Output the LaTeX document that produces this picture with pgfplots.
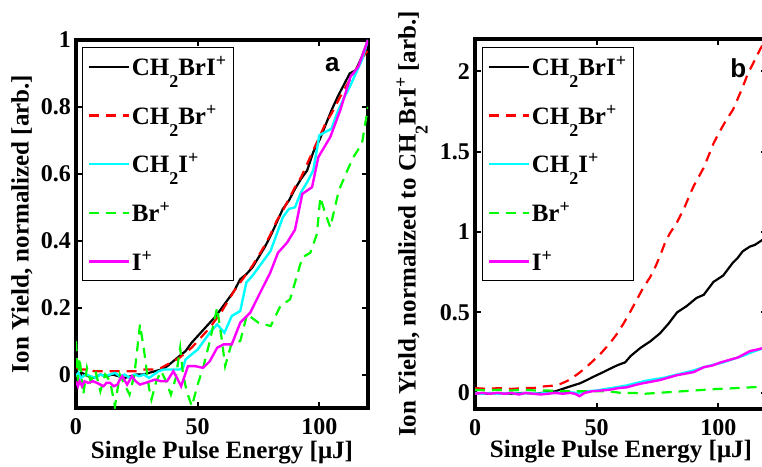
\documentclass[border=0pt]{standalone}
\usepackage{fontspec}
\setmainfont{Liberation Serif}
\newfontfamily\sansfont{Liberation Sans}
\usepackage{pgfplots}
\pgfplotsset{compat=1.18}
\definecolor{mred}{RGB}{255,0,0}
\definecolor{mcyan}{RGB}{0,255,255}
\definecolor{mgreen}{RGB}{0,255,0}
\definecolor{mmag}{RGB}{255,0,255}
\newcommand\tfont{\fontsize{24}{28}\selectfont\bfseries}
\newcommand\lfont{\fontsize{25}{30}\selectfont\bfseries}
\newcommand\msub[1]{\raisebox{-12pt}{\fontsize{18}{18}\selectfont\bfseries #1}}
\newcommand\msup[1]{\raisebox{9pt}{\fontsize{18}{18}\selectfont\bfseries #1}}
\pgfplotsset{
  myaxis/.style={
    scale only axis, width=292pt,
    xmin=0, xmax=120, xtick={0,50,100},
    tick align=inside, major tick length=6pt,
    every tick/.style={black, line width=2pt},
    axis line style={line width=4pt, line cap=rect},
    tick label style={font=\tfont},
    /pgf/number format/assume math mode=true,
    xticklabel style={inner sep=0pt, yshift=-10pt},
    yticklabel style={inner sep=0pt, xshift=-5pt},
    label style={font=\lfont},
    legend cell align=left,
    legend style={anchor=north west, draw=black, line width=0.8pt, font=\lfont,
      inner xsep=5pt, inner ysep=7pt, row sep=24pt, column sep=0pt,
      nodes={inner sep=2pt}},
    legend image code/.code={\draw[##1] (0pt,0pt) -- (40pt,0pt);},
  },
  sblack/.style={black, line width=2.2pt},
  sred/.style={mred, line width=2.2pt, dash pattern=on 10pt off 7pt},
  scyan/.style={mcyan, line width=2.4pt},
  sgreen/.style={mgreen, line width=2.2pt, dash pattern=on 10pt off 7pt},
  smag/.style={mmag, line width=2.4pt},
}
\begin{document}
\begin{tikzpicture}
\begin{axis}[myaxis, at={(76pt,58pt)}, anchor=south west, height=368pt,
  ymin=-0.1, ymax=1, ytick={0,0.2,0.4,0.6,0.8,1},
  xlabel={Single Pulse Energy [μJ]},
  ylabel={Ion Yield, normalized [arb.]},
  xlabel style={at={(axis description cs:0.5,-0.12)}, anchor=center},
  ylabel style={at={(axis description cs:-0.185,0.5)}, anchor=center},
  legend style={at={(rel axis cs:0,1)}, xshift=6pt, yshift=-7pt},
]
\addplot[sblack] coordinates {(0,0.0)(2.5,0.005)(5,-0.005)(7.5,-0.01)(10,0.0)(12.5,-0.005)(15,0.0)(17.5,-0.005)(20,-0.01)(22.5,-0.005)(25,0.0)(27.5,0.0)(30,0.005)(32.5,0.01)(35,0.015)(37.5,0.025)(40,0.04)(42.5,0.055)(45,0.07)(47.5,0.095)(50,0.115)(52.5,0.135)(55,0.155)(57.5,0.175)(60,0.2)(62.5,0.225)(65,0.25)(67.5,0.285)(70,0.3)(72.5,0.32)(75,0.35)(77.5,0.38)(80,0.415)(82.5,0.455)(85,0.495)(87.5,0.52)(90,0.555)(92.5,0.585)(95,0.61)(97.5,0.665)(100,0.7)(102.5,0.745)(105,0.79)(107.5,0.83)(110,0.865)(112.5,0.9)(115,0.91)(117.5,0.95)(120,1.0)};
\addlegendentry{CH\msub{2}BrI\msup{+}}
\addplot[sred] coordinates {(0,0.02)(2.5,0.015)(5,0.015)(7.5,0.01)(10,0.01)(12.5,0.01)(15,0.01)(17.5,0.01)(20,0.01)(22.5,0.01)(25,0.01)(27.5,0.015)(30,0.015)(32.5,0.015)(35,0.02)(37.5,0.03)(40,0.04)(42.5,0.05)(45,0.065)(47.5,0.08)(50,0.1)(52.5,0.12)(55,0.14)(57.5,0.165)(60,0.19)(62.5,0.22)(65,0.25)(67.5,0.275)(70,0.3)(72.5,0.325)(75,0.355)(77.5,0.385)(80,0.42)(82.5,0.46)(85,0.49)(87.5,0.525)(90,0.56)(92.5,0.59)(95,0.63)(97.5,0.67)(100,0.71)(102.5,0.75)(105,0.78)(107.5,0.815)(110,0.85)(112.5,0.88)(115,0.91)(117.5,0.945)(120,0.97)};
\addlegendentry{CH\msub{2}Br\msup{+}}
\addplot[scyan] coordinates {(0,-0.005)(1,0.005)(2,-0.01)(4,0.0)(6,-0.005)(8,-0.01)(10,0.0)(12,-0.005)(14,0.0)(16,0.005)(18,-0.005)(20,0.0)(22,-0.01)(24,0.0)(26,-0.005)(28,0.0)(30,-0.01)(32,0.0)(34,0.01)(36,0.015)(38,0.015)(40,0.015)(42.5,0.015)(44,0.02)(45,0.045)(47.5,0.06)(50,0.075)(52.5,0.1)(55,0.125)(58,0.15)(61,0.125)(64,0.175)(67.5,0.19)(70,0.275)(72.5,0.295)(75,0.32)(77.5,0.345)(80,0.37)(82.5,0.42)(85,0.47)(87.5,0.495)(90,0.5)(92.5,0.545)(95,0.575)(97.5,0.61)(100,0.715)(102.5,0.725)(105,0.735)(107.5,0.785)(110,0.825)(112.5,0.86)(115,0.9)(117.5,0.94)(120,1.0)};
\addlegendentry{CH\msub{2}I\msup{+}}
\addplot[sgreen] coordinates {(0,0.1)(0.8,-0.02)(1.5,0.05)(3,-0.06)(4.5,0.02)(6,-0.02)(8,0.01)(10,-0.05)(12,0.0)(14,-0.02)(16,-0.095)(18,0.0)(20,-0.03)(22,-0.06)(24,0.0)(26.3,0.15)(28,0.07)(30,-0.04)(31,-0.075)(33,-0.02)(35,0.01)(37,-0.02)(39,-0.06)(41,-0.01)(42.8,0.08)(44,0.0)(45.5,-0.05)(47.6,-0.095)(50,-0.03)(52.4,0.025)(55,0.1)(58,0.2)(60,0.1)(61.3,0.025)(64,0.095)(67.5,0.1)(70.3,0.18)(75,0.155)(80,0.145)(84,0.205)(88,0.225)(93,0.35)(96.3,0.364)(99,0.42)(100.4,0.53)(102.5,0.48)(104.5,0.44)(108,0.55)(111.5,0.61)(114,0.65)(117.5,0.69)(120,0.8)};
\addlegendentry{Br\msup{+}}
\addplot[smag] coordinates {(0,-0.02)(0.8,-0.035)(1.5,-0.02)(2.5,-0.035)(3.5,-0.02)(5,-0.025)(7,-0.02)(8.6,-0.025)(10,-0.03)(11.3,-0.035)(12.5,-0.025)(14,-0.025)(15.5,-0.035)(17,-0.03)(18,-0.015)(19,-0.005)(21,-0.03)(23,-0.005)(24.5,-0.02)(26.3,-0.03)(28.5,-0.025)(30.5,-0.02)(32.5,-0.015)(35,-0.02)(37.4,-0.02)(40,0.01)(41.5,-0.01)(43.2,-0.035)(46,0.025)(49,0.025)(52.2,0.02)(55,0.04)(58,0.08)(60.6,0.09)(64,0.09)(67.5,0.155)(71.6,0.185)(75.7,0.245)(79.8,0.304)(83,0.364)(86.7,0.394)(90,0.433)(93,0.54)(97,0.56)(99.6,0.65)(104.5,0.71)(108.6,0.79)(112.8,0.89)(116,0.92)(120,1.0)};
\addlegendentry{I\msup{+}}
\node[font=\sansfont\bfseries\fontsize{26}{26}\selectfont] at (axis cs:105.3,0.925) {a};
\end{axis}
\begin{axis}[myaxis, at={(475pt,57pt)}, anchor=south west, height=370pt,
  ymin=-0.1, ymax=2.2, ytick={0,0.5,1,1.5,2},
  xlabel={Single Pulse Energy [μJ]},
  ylabel={Ion Yield, normalized to CH\msub{2}BrI\msup{+} [arb.]},
  xlabel style={at={(axis description cs:0.5,-0.116)}, anchor=center},
  ylabel style={at={(axis description cs:-0.216,0.5)}, anchor=center},
  legend style={at={(rel axis cs:0,1)}, xshift=7pt, yshift=-8pt},
]
\addplot[sblack] coordinates {(0,0.0)(5,-0.005)(10,0.0)(15,-0.005)(20,0.0)(25,-0.005)(30,0.005)(33,0.01)(35,0.02)(39,0.04)(43.2,0.06)(46,0.08)(48.6,0.10)(52.8,0.13)(56.8,0.16)(59,0.175)(61.7,0.19)(64,0.23)(68,0.28)(72,0.32)(76,0.37)(79.5,0.43)(83,0.50)(87,0.54)(91,0.59)(94,0.61)(96,0.65)(98,0.69)(102,0.73)(106,0.81)(108,0.84)(110,0.88)(113,0.91)(115,0.92)(118,0.95)(120,0.97)};
\addlegendentry{CH\msub{2}BrI\msup{+}}
\addplot[sred] coordinates {(0,0.03)(5,0.025)(10,0.03)(15,0.025)(20,0.03)(24,0.03)(28,0.04)(32,0.045)(35,0.055)(38,0.075)(42,0.115)(45,0.15)(48.6,0.20)(52,0.25)(55.5,0.31)(58,0.36)(61,0.43)(64,0.51)(66.5,0.58)(69,0.65)(72,0.72)(74,0.78)(76,0.85)(78,0.93)(80,0.99)(83,1.06)(86,1.15)(88.5,1.24)(90,1.29)(94,1.40)(98,1.55)(100,1.61)(103,1.69)(106,1.76)(108,1.83)(110,1.9)(112,1.98)(115,2.07)(117.3,2.14)(120,2.2)};
\addlegendentry{CH\msub{2}Br\msup{+}}
\addplot[scyan] coordinates {(0,0.0)(3,-0.005)(6,0.0)(10,-0.005)(14,0)(18,-0.005)(22,0)(26,-0.005)(30,0)(34,0)(38,0.005)(42,0.0)(46,0.01)(50,0.015)(54,0.025)(58,0.035)(62,0.045)(66,0.06)(70,0.075)(74,0.085)(78,0.095)(82,0.11)(86,0.125)(90,0.14)(94,0.16)(98,0.175)(102,0.19)(106,0.21)(110,0.23)(114,0.255)(118,0.275)(120,0.285)};
\addlegendentry{CH\msub{2}I\msup{+}}
\addplot[sgreen] coordinates {(0,0.02)(5,0.015)(10,0.02)(15,0.015)(20,0.02)(25,0.015)(30,0.015)(35,0.01)(40,0.01)(45,0.01)(50,0.01)(55,0.01)(60,0.0)(65,0.0)(70,-0.005)(75,0.0)(80,0.005)(85,0.01)(90,0.015)(95,0.02)(100,0.025)(105,0.028)(110,0.032)(115,0.036)(120,0.04)};
\addlegendentry{Br\msup{+}}
\addplot[smag] coordinates {(0,-0.005)(3,0)(6,-0.005)(9,0)(12,-0.005)(15,0)(18,-0.01)(21,0)(24,-0.005)(27,-0.01)(30,-0.005)(33,0)(36,-0.005)(39,0)(41,-0.005)(43,-0.02)(45,0.0)(48,0.01)(52,0.015)(55.5,0.02)(59,0.03)(62.5,0.035)(66,0.05)(69,0.06)(72.5,0.07)(76,0.08)(79.5,0.095)(83,0.11)(86.5,0.12)(90,0.13)(94,0.16)(97.5,0.17)(101,0.19)(104.5,0.205)(108,0.22)(110.5,0.24)(113,0.26)(116,0.27)(120,0.285)};
\addlegendentry{I\msup{+}}
\node[font=\sansfont\bfseries\fontsize{26}{26}\selectfont] at (axis cs:108.2,2.02) {b};
\end{axis}
\pgfresetboundingbox
\path[use as bounding box] (0pt,0pt) rectangle (762pt,466pt);
\end{tikzpicture}
\end{document}
